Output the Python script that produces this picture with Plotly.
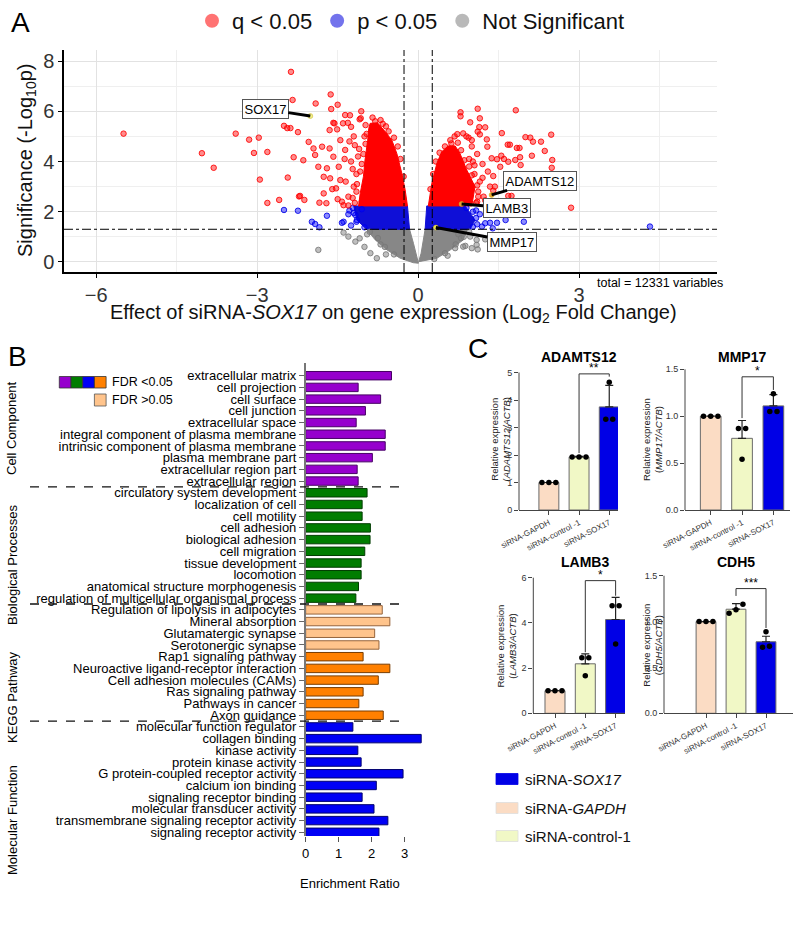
import numpy as np
import plotly.graph_objects as go

W, H = 800, 938
def PX(v): return v / W
def PY(v): return 1 - v / H

FONT = "Arial, Liberation Sans, sans-serif"

# ---------------- Panel A : volcano data ----------------
red_x = [-5.49,-4.03,-3.81,-3.40,-3.15,-2.97,-3.06,-2.81,-2.95,-2.81,-2.59,-2.43,-2.37,-2.34,-2.50,-2.44,-2.38,-2.24,-2.32,-2.22,
         -1.91,-2.14,-1.63,-1.62,-1.50,-1.06,-1.56,-1.36,-1.27,-1.09,-1.07,-1.58,-1.40,-1.31,-1.25,-1.65,-1.51,-1.45,-2.04,-1.79,
         -1.95,-1.92,-1.65,-1.58,-1.36,-1.37,-1.86,-1.70,-1.48,-1.76,-1.64,-1.45,-2.20,-2.12,-1.76,-1.84,-1.71,-1.42,-1.39,-1.53,
         -1.20,-1.15,-1.30,-1.25,-1.10,-1.00,-1.20,-1.35,-1.05,-1.60,-1.50,-1.15,-1.28,-0.85,-0.70,-0.60,-1.12,-1.22,
         -1.18,-1.22,-1.14,-1.08,-1.05,-1.02,-0.98,-0.96,-0.98,-0.80,-0.66,-0.55,-0.45,-0.38,-0.33,-0.27,-1.30,-1.18,
         1.11,1.82,0.79,0.79,1.15,0.97,1.14,1.25,1.11,1.15,0.73,0.84,1.56,2.00,2.09,2.14,2.29,2.48,1.28,1.29,
         0.94,1.00,1.67,1.71,1.84,1.89,2.12,2.50,1.37,1.47,1.55,1.60,1.68,1.81,1.91,2.49,2.85,1.74,1.68,1.53,
         1.40,1.43,2.36,1.90,1.34,1.40,1.22,1.34,1.05,1.15,1.20,1.10,1.00,0.90,1.30,1.25,1.10,0.95,1.12,1.20,
         0.60,0.68,1.05,1.30,
         1.08,1.12,1.10,1.00,0.95,0.86,0.80,0.74,0.62,0.50,0.40,0.33,0.28,0.23,1.02]
red_y = [5.11,4.33,3.75,5.11,4.87,4.95,4.34,4.38,3.28,2.35,2.47,3.36,7.57,6.45,5.42,5.33,5.33,5.17,4.17,2.61,
         6.31,4.05,6.67,6.09,6.26,6.00,5.52,5.85,5.84,5.68,5.72,5.54,5.52,5.54,5.38,5.25,5.28,4.85,4.78,4.59,
         4.52,4.26,4.52,4.19,4.46,4.10,3.79,3.73,3.79,3.39,3.33,3.26,2.63,2.47,2.73,2.36,2.34,2.40,2.26,2.93,
         3.00,3.50,2.60,4.00,4.50,5.00,5.00,3.20,2.40,2.90,2.50,2.80,4.80,5.75,5.65,5.40,4.20,3.70,
         2.35,2.55,3.10,3.60,3.90,4.30,4.70,5.10,5.45,5.60,5.50,5.20,4.95,4.60,4.10,3.40,2.25,4.65,
         6.10,6.04,5.96,5.80,5.72,5.56,5.37,5.36,5.19,5.08,5.09,5.12,5.13,4.97,4.95,4.79,4.79,5.07,4.88,4.59,
         4.95,4.85,4.67,4.67,4.54,4.54,4.23,4.06,4.13,4.09,4.23,4.10,3.99,4.06,3.86,3.75,2.16,2.63,2.63,3.79,
         3.42,3.00,4.42,4.17,3.00,2.84,2.60,2.26,3.50,3.20,3.90,4.30,4.60,5.00,3.60,2.45,2.40,4.10,2.80,3.35,
         4.85,5.00,3.85,2.30,
         2.35,2.60,3.05,3.45,3.80,4.05,4.45,4.75,4.72,4.60,4.35,4.00,3.50,2.90,4.00]
blue_x = [-2.50,-2.24,-1.70,-1.98,-1.92,-1.84,-1.39,-1.42,-1.17,-1.14,4.32,1.97,1.63,1.47,1.25,1.39,1.19,1.34,
          -1.30,-1.25,1.15,1.10,-1.05,1.08,-1.28,
          -1.22,-1.20,-1.15,-1.00,0.90,1.02,1.08,1.02]
blue_y = [2.07,2.04,1.84,1.60,1.51,1.38,1.60,1.56,1.87,1.67,1.41,1.60,1.67,1.56,1.54,1.34,1.41,1.56,
          1.90,1.45,1.90,1.50,2.10,2.05,2.05,
          2.15,1.95,1.60,1.38,2.15,2.00,1.75,1.40]
grey_x = [-1.86,-1.39,-1.30,-1.09,-1.17,-0.89,-0.77,1.09,1.11,0.88,0.69,0.97,1.09,0.84,1.00,
          -0.95,-0.70,0.75,0.80,0.55,-0.60,-1.00,1.25,
          -0.90,-0.75,-0.62,-0.45,0.95,0.85,0.70,0.50,0.30]
grey_y = [0.48,1.17,1.01,0.94,0.81,0.35,0.15,0.68,0.50,0.64,0.55,1.01,0.88,0.61,0.55,
          1.10,0.70,1.10,0.95,0.25,0.30,0.60,0.90,
          1.20,0.95,0.60,0.30,1.20,1.00,0.70,0.35,0.12]

# outlines of the dense (over-plotted) cores of the cloud
red_core_left_x = [-0.894,-0.757,-0.615,-0.49,-0.397,-0.304,-0.242,-0.199,-1.11,-1.08,-1.02,-0.99,-0.94,-0.92]
red_core_left_y = [5.52,5.54,5.19,4.85,4.32,3.53,2.87,2.23,2.23,2.73,3.39,4.06,4.85,5.32]
red_core_right_x = [0.19,0.255,0.35,0.44,0.56,0.69,0.78,0.907,1.06,1.0]
red_core_right_y = [2.23,3.13,3.93,4.39,4.62,4.62,4.32,3.66,3.00,2.23]
blue_core_left_x = [-1.20,-0.199,-0.16,-0.96,-1.14]
blue_core_left_y = [2.23,2.23,1.30,1.30,1.67]
blue_core_right_x = [0.16,0.875,1.06,0.97,0.13]
blue_core_right_y = [2.23,2.23,1.67,1.30,1.30]
grey_core_left_x = [-0.96,-0.16,-0.087,-0.025,0.006,-0.09,-0.335,-0.58,-0.80]
grey_core_left_y = [1.30,1.30,0.74,0.21,-0.05,-0.03,0.15,0.48,0.88]
grey_core_right_x = [0.13,0.97,0.907,0.84,0.60,0.35,0.01,0.056]
grey_core_right_y = [1.30,1.30,1.27,0.88,0.48,0.15,0.01,0.35]

label_genes = ["SOX17", "ADAMTS12", "LAMB3", "MMP17"]
label_fc = [-2.01, 1.37, 0.81, 0.33]
label_sig = [5.81, 2.67, 2.31, 1.37]
TOTAL_VARS = 12331
FC_CUT = np.log2(1.2)
P_CUT = -np.log10(0.05)

# ---------------- Panel B : enrichment data ----------------
terms = ["extracellular matrix","cell projection","cell surface","cell junction","extracellular space",
         "integral component of plasma membrane","intrinsic component of plasma membrane","plasma membrane part",
         "extracellular region part","extracellular region",
         "circulatory system development","localization of cell","cell motility","cell adhesion","biological adhesion",
         "cell migration","tissue development","locomotion","anatomical structure morphogenesis",
         "regulation of multicellular organismal process",
         "Regulation of lipolysis in adipocytes","Mineral absorption","Glutamatergic synapse","Serotonergic synapse",
         "Rap1 signaling pathway","Neuroactive ligand-receptor interaction","Cell adhesion molecules (CAMs)",
         "Ras signaling pathway","Pathways in cancer","Axon guidance",
         "molecular function regulator","collagen binding","kinase activity","protein kinase activity",
         "G protein-coupled receptor activity","calcium ion binding","signaling receptor binding",
         "molecular transducer activity","transmembrane signaling receptor activity","signaling receptor activity"]
enrichment = [2.60,1.59,2.27,1.81,1.53,2.41,2.41,2.02,1.56,1.59,
              1.86,1.71,1.71,1.96,1.95,1.79,1.68,1.68,1.60,1.52,
              2.32,2.55,2.09,2.22,1.74,2.55,2.20,1.74,1.61,2.35,
              1.43,3.50,1.58,1.68,2.95,2.14,1.71,2.07,2.49,2.22]
term_group = ["CC"]*10 + ["BP"]*10 + ["KEGG"]*10 + ["MF"]*10
fdr_below = [True]*20 + [False]*4 + [True]*6 + [True]*10
group_names = ["Cell Component", "Biological Processes", "KEGG Pathway", "Molecular Function"]

# ---------------- Panel C : qPCR data ----------------
conditions = ["siRNA-GAPDH", "siRNA-control -1", "siRNA-SOX17"]
qpcr_genes = ["ADAMTS12", "MMP17", "LAMB3", "CDH5"]
adamts12_mean = [1.0, 1.93, 3.75]
adamts12_sd = [0.0, 0.02, 0.78]
adamts12_pts = [[1.0, 1.0, 1.0], [1.93, 1.93, 1.93], [4.65, 3.30, 3.30]]
mmp17_mean = [1.0, 0.764, 1.11]
mmp17_sd = [0.0, 0.19, 0.12]
mmp17_pts = [[1.0, 1.0, 1.0], [0.87, 0.87, 0.54], [1.24, 1.05, 1.05]]
lamb3_mean = [1.0, 2.19, 4.15]
lamb3_sd = [0.0, 0.44, 0.98]
lamb3_pts = [[1.0, 1.0, 1.0], [2.46, 2.46, 1.66], [4.76, 4.76, 3.07]]
cdh5_mean = [1.0, 1.135, 0.78]
cdh5_sd = [0.0, 0.06, 0.06]
cdh5_pts = [[1.0, 1.0, 1.0], [1.19, 1.13, 1.09], [0.89, 0.72, 0.73]]
sig_marks = ["**", "*", "*", "***"]
bracket_top = [4.95, 1.42, 5.87, 1.36]
bracket_left_end = [2.07, 0.98, 2.70, 1.28]
bracket_right_end = [4.85, 1.28, 5.20, 0.93]
ytick_sets = [[0, 1, 2, 3, 4, 5], [0, 0.5, 1.0, 1.5], [0, 2, 4, 6], [0, 0.5, 1.0, 1.5]]
ytick_text = [["0", "1", "2", "3", "4", "5"], ["0.0", "0.5", "1.0", "1.5"], ["0", "2", "4", "6"], ["0.0", "0.5", "1.0", "1.5"]]

# =====================================================================
fig = go.Figure()

def pa(xp, yp, text, size, color="black", xanchor="center", yanchor="middle", **kw):
    """annotation placed in figure pixels"""
    d = dict(xref="paper", yref="paper", x=PX(xp), y=PY(yp), text=text, showarrow=False,
             xanchor=xanchor, yanchor=yanchor, font=dict(size=size, color=color, family=FONT))
    d.update(kw)
    return d

RED_F = "rgba(255,0,0,0.45)"; RED_L = "rgba(255,0,0,0.85)"
BLUE_F = "rgba(0,0,255,0.45)"; BLUE_L = "rgba(0,0,230,0.85)"
GREY_F = "rgba(128,128,128,0.5)"; GREY_L = "rgba(120,120,120,0.85)"

def core(xs, ys, col):
    fig.add_trace(go.Scatter(x=xs + xs[:1], y=ys + ys[:1], mode="lines", fill="toself",
                             fillcolor=col, line=dict(color=col, width=1), hoverinfo="skip",
                             showlegend=False, xaxis="x", yaxis="y"))

core(grey_core_left_x, grey_core_left_y, "rgb(135,135,135)")
core(grey_core_right_x, grey_core_right_y, "rgb(135,135,135)")
core(blue_core_left_x, blue_core_left_y, "rgb(15,15,215)")
core(blue_core_right_x, blue_core_right_y, "rgb(15,15,215)")
core(red_core_left_x, red_core_left_y, "rgb(255,0,0)")
core(red_core_right_x, red_core_right_y, "rgb(255,0,0)")

for xs, ys, fc, lc in [(grey_x, grey_y, GREY_F, GREY_L), (blue_x, blue_y, BLUE_F, BLUE_L), (red_x, red_y, RED_F, RED_L)]:
    fig.add_trace(go.Scatter(x=xs, y=ys, mode="markers", showlegend=False, xaxis="x", yaxis="y",
                             marker=dict(size=5.5, color=fc, line=dict(color=lc, width=1))))

hl_colors = ["#F2F08A", "#E8A830", "#E8A030", "#E8E050"]
fig.add_trace(go.Scatter(x=label_fc, y=label_sig, mode="markers", showlegend=False, xaxis="x", yaxis="y",
                         marker=dict(size=5, color=hl_colors, line=dict(color="#C8B020", width=0.5))))

# legend entries
for name, fc in [("q < 0.05", "rgba(255,0,0,0.55)"), ("p < 0.05", "rgba(0,0,220,0.55)"), ("Not Significant", "rgba(128,128,128,0.55)")]:
    fig.add_trace(go.Scatter(x=[None], y=[None], mode="markers", name=name, xaxis="x", yaxis="y",
                             marker=dict(size=14, color=fc, line=dict(width=0))))

# ---------------- Panel B bars ----------------
fill_map = {"CC": "rgb(150,0,205)", "BP": "rgb(0,125,0)", "KEGG": "rgb(255,128,0)", "MF": "rgb(0,0,245)"}
edge_map = {"CC": "rgb(70,0,100)", "BP": "rgb(0,60,0)", "KEGG": "rgb(120,60,0)", "MF": "rgb(0,0,110)"}
bar_fill = [fill_map[g] if f else "rgb(255,196,140)" for g, f in zip(term_group, fdr_below)]
bar_edge = [edge_map[g] if f else "rgb(150,100,60)" for g, f in zip(term_group, fdr_below)]
fig.add_trace(go.Bar(x=enrichment, y=terms, orientation="h", xaxis="x2", yaxis="y2", width=0.72,
                     marker=dict(color=bar_fill, line=dict(color=bar_edge, width=1)), showlegend=False))

# ---------------- Panel C ----------------
c_means = [adamts12_mean, mmp17_mean, lamb3_mean, cdh5_mean]
c_sds = [adamts12_sd, mmp17_sd, lamb3_sd, cdh5_sd]
c_pts = [adamts12_pts, mmp17_pts, lamb3_pts, cdh5_pts]
cond_fill = ["#FBDCC4", "#F1F8C6", "#0000E6"]

# geometry (pixels): x-domain, x-range, y zero pixel, px per unit, top value of range
c_geom = [
    dict(xd=(519, 618), xr=(-0.99, 2.29), y0=510.0, ppu=27.5, top=5.5),
    dict(xd=(685, 790), xr=(-0.82, 2.53), y0=510.0, ppu=93.8, top=1.55),
    dict(xd=(533.3, 625), xr=(-0.716, 2.31), y0=713.3, ppu=22.6, top=6.25),
    dict(xd=(664, 793), xr=(-1.4, 2.9), y0=713.3, ppu=91.7, top=1.55),
]

def spread(vals, tol, step=0.23):
    vals = np.asarray(vals, float)
    order = list(np.argsort(vals))
    offs = np.zeros(len(vals))
    groups, cur = [], [order[0]]
    for i in order[1:]:
        if abs(vals[i] - vals[cur[-1]]) <= tol:
            cur.append(i)
        else:
            groups.append(cur); cur = [i]
    groups.append(cur)
    for g in groups:
        n = len(g)
        for k, i in enumerate(g):
            offs[i] = (k - (n - 1) / 2) * step
    return offs

shapes = []
annotations = []
layout_axes = {}
title_pos = [(579, 357), (742, 357), (585, 562), (736, 562)]
ylab_pos = [(499.5, 440), (652, 440), (505.5, 646), (651.7, 645)]
for k in range(4):
    n = k + 3
    xa, ya = f"x{n}", f"y{n}"
    gm = c_geom[k]
    fig.add_trace(go.Bar(x=[0, 1, 2], y=c_means[k], width=0.66, xaxis=xa, yaxis=ya, showlegend=False,
                         marker=dict(color=cond_fill, line=dict(color="#6A6A6A", width=1)),
                         error_y=dict(type="data", array=c_sds[k], arrayminus=[0, 0, 0], symmetric=False,
                                      color="#222", thickness=1.2, width=4)))
    dx, dy = [], []
    for gi, pts in enumerate(c_pts[k]):
        offs = spread(pts, 0.06 * gm["top"])
        for v, o in zip(pts, offs):
            dx.append(gi + o); dy.append(v)
    fig.add_trace(go.Scatter(x=dx, y=dy, mode="markers", xaxis=xa, yaxis=ya, showlegend=False,
                             marker=dict(size=5.5, color="black")))
    ytop_px = gm["y0"] - gm["top"] * gm["ppu"]
    layout_axes["xaxis%d" % n] = dict(domain=[PX(gm["xd"][0]), PX(gm["xd"][1])], range=list(gm["xr"]),
                                     anchor=ya, tickvals=[0, 1, 2], ticktext=conditions, tickangle=-27,
                                     tickfont=dict(size=8, color="#333", family=FONT), ticks="outside",
                                     ticklen=4, tickcolor="#444", showline=True, linecolor="#444",
                                     linewidth=1, showgrid=False, zeroline=False, automargin=False)
    layout_axes["yaxis%d" % n] = dict(domain=[PY(gm["y0"]), PY(ytop_px)], range=[0, gm["top"]],
                                     anchor=xa, tickvals=ytick_sets[k], ticktext=ytick_text[k],
                                     tickfont=dict(size=9, color="#333", family=FONT), ticks="outside",
                                     ticklen=4, tickcolor="#444", showline=False, showgrid=False,
                                     zeroline=False, automargin=False)
    # y axis line up to top tick
    shapes.append(dict(type="line", xref=f"{xa} domain", yref=ya, x0=0, x1=0, y0=0, y1=ytick_sets[k][-1],
                       line=dict(color="#444", width=1)))
    # significance bracket
    shapes.append(dict(type="path", xref=xa, yref=ya,
                       path=f"M 1,{bracket_left_end[k]} L 1,{bracket_top[k]} L 2,{bracket_top[k]} L 2,{bracket_right_end[k]}",
                       line=dict(color="#333", width=1)))
    annotations.append(dict(xref=xa, yref=ya, x=1.5, y=bracket_top[k], text=sig_marks[k], showarrow=False,
                            xanchor="center", yanchor="bottom", yshift=-3,
                            font=dict(size=12, color="black", family=FONT)))
    annotations.append(pa(title_pos[k][0], title_pos[k][1], "<b>%s</b>" % qpcr_genes[k], 14))
    annotations.append(pa(ylab_pos[k][0], ylab_pos[k][1],
                          "Relative expression<br>(<i>%s/ACTB</i>)" % qpcr_genes[k], 9.5, color="#222",
                          textangle=-90))

# Panel C legend
for (lab, col, yc) in [("siRNA-<i>SOX17</i>", cond_fill[2], 779), ("siRNA-<i>GAPDH</i>", cond_fill[0], 808),
                       ("siRNA-control-1", cond_fill[1], 836)]:
    shapes.append(dict(type="rect", xref="paper", yref="paper", x0=PX(496), x1=PX(518), y0=PY(yc - 5.5),
                       y1=PY(yc + 5.5), fillcolor=col, line=dict(color="#DDD" if col != cond_fill[2] else col, width=0.8)))
    annotations.append(pa(523, yc, lab, 15, color="#111", xanchor="left"))

# ---------------- Panel A decorations ----------------
shapes += [
    dict(type="line", xref="x domain", yref="y", x0=0, x1=1, y0=P_CUT, y1=P_CUT, line=dict(color="black", width=1, dash="dashdot")),
    dict(type="line", xref="x", yref="y domain", x0=-FC_CUT, x1=-FC_CUT, y0=0, y1=1, line=dict(color="black", width=1, dash="dashdot")),
    dict(type="line", xref="x", yref="y domain", x0=FC_CUT, x1=FC_CUT, y0=0, y1=1, line=dict(color="black", width=1, dash="dashdot")),
]
label_offsets = [(-45, -7), (48, -14), (45, 4), (76, 14)]
for g, xv, yv, (ax, ay) in zip(label_genes, label_fc, label_sig, label_offsets):
    annotations.append(dict(xref="x", yref="y", x=xv, y=yv, text=g, showarrow=True, arrowhead=0,
                            arrowwidth=3, arrowcolor="black", ax=ax, ay=ay, bgcolor="white",
                            bordercolor="#555", borderwidth=1, borderpad=1.5,
                            font=dict(size=13, color="black", family=FONT)))
annotations += [
    pa(20, 22, "A", 28),
    pa(17, 356, "B", 28),
    pa(478, 348, "C", 28),
    pa(27, 161, "Significance (-Log<sub>10</sub>p)", 20, color="#111", textangle=-90),
    pa(393, 313, "Effect of siRNA-<i>SOX17</i> on gene expression (Log<sub>2</sub> Fold Change)", 20, color="#111"),
    pa(725, 283, "total = %d variables" % TOTAL_VARS, 12.5, xanchor="right"),
]

# ---------------- Panel B decorations ----------------
for b in [9.5, 19.5, 29.5]:
    shapes.append(dict(type="line", xref="paper", yref="y2", x0=PX(30), x1=PX(403), y0=b, y1=b,
                       line=dict(color="#111", width=1.3, dash="dash")))
for name, yc in zip(group_names, [428, 565, 697, 820]):
    annotations.append(pa(12, yc, name, 13, textangle=-90))
annotations.append(pa(350, 883, "Enrichment Ratio", 13))
sw = 11.7
for j, g in enumerate(["CC", "BP", "MF", "KEGG"]):
    shapes.append(dict(type="rect", xref="paper", yref="paper", x0=PX(59.3 + j * sw), x1=PX(59.3 + (j + 1) * sw),
                       y0=PY(388), y1=PY(376.5), fillcolor=fill_map[g], line=dict(color="#333", width=0.8)))
shapes.append(dict(type="rect", xref="paper", yref="paper", x0=PX(94.4), x1=PX(106.1), y0=PY(406), y1=PY(394),
                   fillcolor="rgb(255,196,140)", line=dict(color="#555", width=0.8)))
annotations.append(pa(109.5, 382, "FDR <0.05", 12.5, xanchor="left"))
annotations.append(pa(109.5, 400, "FDR >0.05", 12.5, xanchor="left"))

# B axis geometry
b_first, b_last, b_step = 375.7, 832.3, (832.3 - 375.7) / 39
b_top, b_bot = 363.0, 836.0
b_range = [39 + (b_bot - b_last) / b_step, -(b_first - b_top) / b_step]

fig.update_layout(
    template="none",
    width=W, height=H, margin=dict(l=0, r=0, t=0, b=0, autoexpand=False),
    paper_bgcolor="white", plot_bgcolor="white",
    font=dict(family=FONT, color="black"),
    showlegend=True,
    legend=dict(orientation="h", x=PX(192), y=PY(0), xanchor="left", yanchor="top",
                font=dict(size=22, color="#111", family=FONT), bgcolor="rgba(0,0,0,0)",
                itemclick=False, tracegroupgap=0),
    xaxis=dict(domain=[PX(64), PX(717)], range=[-6.6, 5.57], anchor="y", tick0=0, dtick=3,
               showgrid=True, gridcolor="#E2E2E2", gridwidth=1.3,
               minor=dict(dtick=1.5, tick0=0, showgrid=True, gridcolor="#EFEFEF", gridwidth=1),
               zeroline=False, showline=True, linecolor="black", linewidth=1.5, ticks="outside",
               ticklen=4, tickcolor="black", tickfont=dict(size=20, color="#333", family=FONT), automargin=False),
    yaxis=dict(domain=[PY(272), PY(50)], range=[-0.4, 8.44], anchor="x", tick0=0, dtick=2,
               showgrid=True, gridcolor="#E2E2E2", gridwidth=1.3,
               minor=dict(dtick=1, tick0=0, showgrid=True, gridcolor="#EFEFEF", gridwidth=1),
               zeroline=False, showline=True, linecolor="black", linewidth=1.5, ticks="outside",
               ticklen=4, tickcolor="black", tickfont=dict(size=20, color="#333", family=FONT), automargin=False),
    xaxis2=dict(domain=[PX(305.7), PX(305.7 + 3.6 * 33)], range=[0, 3.6], anchor="y2",
                tickvals=[0, 1, 2, 3], ticks="outside", ticklen=5, tickcolor="#555", showline=False,
                showgrid=False, zeroline=False, tickfont=dict(size=13, color="black", family=FONT), automargin=False),
    yaxis2=dict(domain=[PY(b_bot), PY(b_top)], type="category", categoryorder="array", categoryarray=terms,
                tickmode="array", tickvals=terms, ticktext=terms,
                range=b_range, anchor="x2", ticks="outside", ticklen=5, tickcolor="#666", showline=True,
                linecolor="#777", linewidth=1.5, showgrid=False, zeroline=False,
                tickfont=dict(size=13, color="black", family=FONT), automargin=False),
    shapes=shapes, annotations=annotations,
    bargap=0.3,
)
fig.update_layout(**layout_axes)

fig.write_html("out.html", config={"displayModeBar": False},
               post_script="document.body.style.margin='0px';")
